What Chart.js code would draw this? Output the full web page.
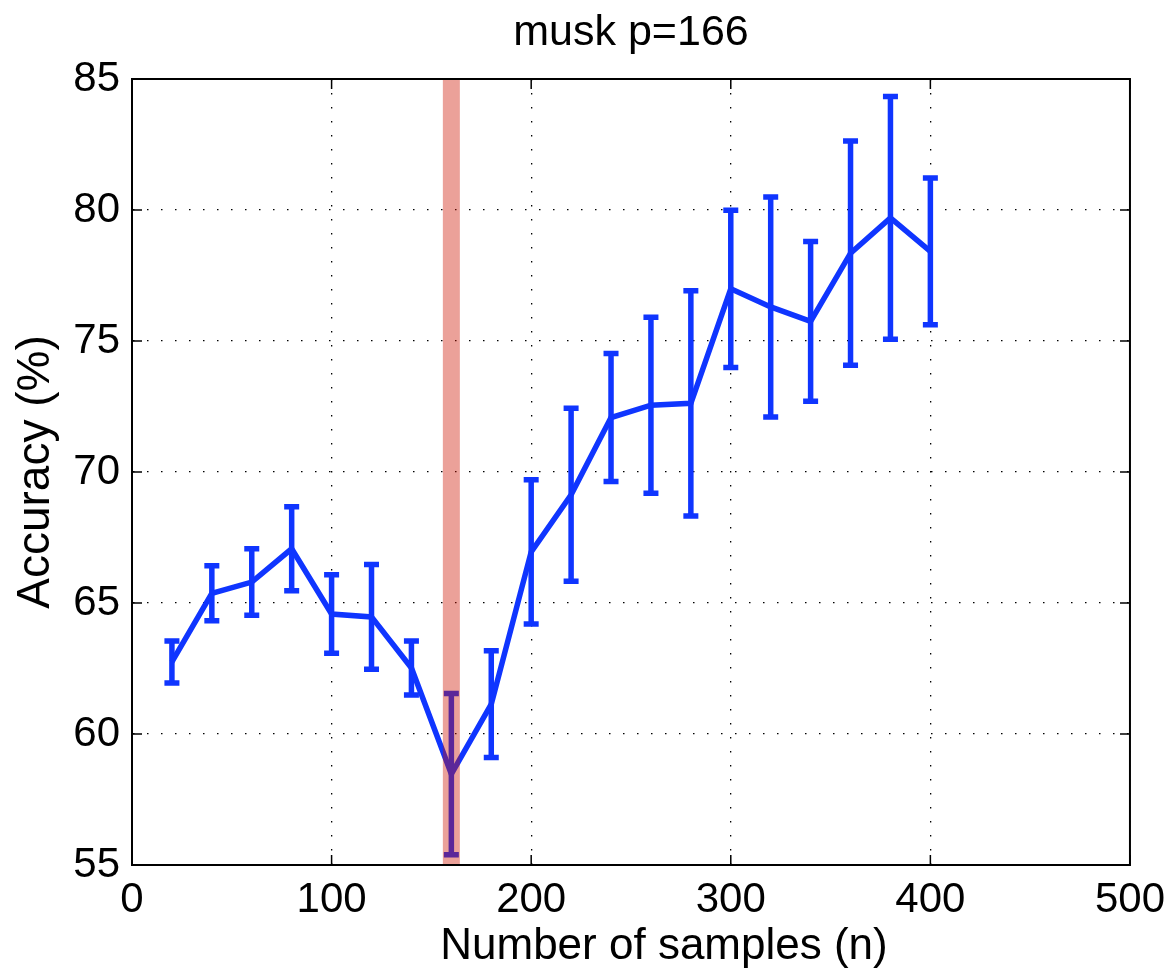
<!DOCTYPE html>
<html>
<head>
  <meta charset="utf-8">
  <title>musk p=166</title>
  <script src="https://cdn.jsdelivr.net/npm/chart.js"></script>
  <style>
    html, body { margin: 0; padding: 0; background: #fff; overflow: hidden; }
    #wrap { width: 1175px; height: 973px; }
  </style>
</head>
<body>
  <div id="wrap"><canvas id="accChart" width="1175" height="973"></canvas></div>

  <script>
    // values
    const samples = [20, 40, 60, 80, 100, 120, 140, 160, 180, 200, 220, 240, 260, 280, 300, 320, 340, 360, 380, 400];
    const accuracy = [62.75, 65.37, 65.8, 67.07, 64.58, 64.47, 62.52, 58.47, 61.14, 66.95, 69.13, 72.08, 72.55, 72.62, 76.99, 76.3, 75.75, 78.35, 79.7, 78.42];
    const errors = [0.8, 1.05, 1.27, 1.6, 1.5, 2.0, 1.03, 3.08, 2.04, 2.75, 3.3, 2.44, 3.36, 4.3, 3.0, 4.2, 3.05, 4.28, 4.63, 2.8];
    const xTicks = [0, 100, 200, 300, 400, 500];
    const yTicks = [55, 60, 65, 70, 75, 80, 85];
    const markedN = 160;
    const chartTitle = 'musk p=166';
    const xLabel = 'Number of samples (n)';
    const yLabel = 'Accuracy (%)';

    const FONT = "'Liberation Sans', Arial, Helvetica, sans-serif";
    const BLUE = '#0f35ff';

    // error bars under the line (and under the red band)
    const errorBars = {
      id: 'errorBars',
      beforeDatasetsDraw(chart) {
        const { ctx, scales: { x, y } } = chart;
        ctx.save();
        ctx.strokeStyle = BLUE;
        ctx.lineWidth = 5.5;
        samples.forEach((n, i) => {
          const px = x.getPixelForValue(n);
          const top = y.getPixelForValue(accuracy[i] + errors[i]);
          const bot = y.getPixelForValue(accuracy[i] - errors[i]);
          ctx.beginPath();
          ctx.moveTo(px, top); ctx.lineTo(px, bot);
          ctx.moveTo(px - 7.5, top); ctx.lineTo(px + 7.5, top);
          ctx.moveTo(px - 7.5, bot); ctx.lineTo(px + 7.5, bot);
          ctx.stroke();
        });
        ctx.restore();
      }
    };

    // matlab style box with inward ticks, plus title and x label
    const frame = {
      id: 'frame',
      afterDatasetsDraw(chart) {
        const { ctx, chartArea: a, scales: { x, y } } = chart;
        ctx.save();
        ctx.strokeStyle = '#000';
        ctx.lineWidth = 2;
        ctx.strokeRect(a.left, a.top, a.right - a.left, a.bottom - a.top);
        ctx.lineWidth = 1.5;
        ctx.beginPath();
        xTicks.forEach(v => {
          const px = x.getPixelForValue(v);
          ctx.moveTo(px, a.bottom); ctx.lineTo(px, a.bottom - 10);
          ctx.moveTo(px, a.top); ctx.lineTo(px, a.top + 10);
        });
        yTicks.forEach(v => {
          const py = y.getPixelForValue(v);
          ctx.moveTo(a.left, py); ctx.lineTo(a.left + 10, py);
          ctx.moveTo(a.right, py); ctx.lineTo(a.right - 10, py);
        });
        ctx.stroke();

        ctx.fillStyle = '#000';
        ctx.textAlign = 'center';
        ctx.textBaseline = 'alphabetic';
        ctx.font = '43px ' + FONT;
        ctx.fillText(chartTitle, (a.left + a.right) / 2, 45);
        ctx.font = '44px ' + FONT;
        ctx.fillText(xLabel, (a.left + a.right) / 2 + 33, 959);
        ctx.restore();
      }
    };

    new Chart(document.getElementById('accChart'), {
      type: 'line',
      data: {
        datasets: [
          {
            label: 'n = ' + markedN,
            data: [{ x: markedN, y: yTicks[0] }, { x: markedN, y: yTicks[yTicks.length - 1] }],
            borderColor: 'rgba(205, 20, 0, 0.4)',
            borderWidth: 17,
            borderCapStyle: 'butt',
            pointRadius: 0,
            clip: false,
            order: 0
          },
          {
            label: yLabel,
            data: samples.map((n, i) => ({ x: n, y: accuracy[i] })),
            borderColor: BLUE,
            borderWidth: 5.5,
            pointRadius: 0,
            tension: 0,
            order: 1
          }
        ]
      },
      options: {
        responsive: false,
        animation: false,
        layout: { padding: { left: 0, right: 42, top: 79, bottom: 0 } },
        plugins: {
          legend: { display: false },
          tooltip: { enabled: false },
          title: { display: false }
        },
        scales: {
          x: {
            type: 'linear',
            min: 0,
            max: 500,
            afterBuildTicks: s => { s.ticks = xTicks.map(v => ({ value: v })); },
            afterFit: s => { s.height = 108; },
            ticks: { color: '#000', font: { family: FONT, size: 42 }, padding: 10, maxRotation: 0 },
            grid: { color: '#000', lineWidth: 1.3, drawTicks: false },
            border: { display: true, color: '#000', width: 2, dash: [1.5, 12.5] }
          },
          y: {
            min: 55,
            max: 85,
            afterBuildTicks: s => { s.ticks = yTicks.map(v => ({ value: v })); },
            afterFit: s => { s.width = 132; },
            ticks: { color: '#000', font: { family: FONT, size: 42 }, padding: 12 },
            grid: { color: '#000', lineWidth: 1.3, drawTicks: false },
            border: { display: true, color: '#000', width: 2, dash: [1.5, 12.5] },
            title: {
              display: true,
              text: yLabel,
              color: '#000',
              font: { family: FONT, size: 46 },
              padding: { top: 9, bottom: 0 }
            }
          }
        }
      },
      plugins: [errorBars, frame]
    });
  </script>
</body>
</html>
